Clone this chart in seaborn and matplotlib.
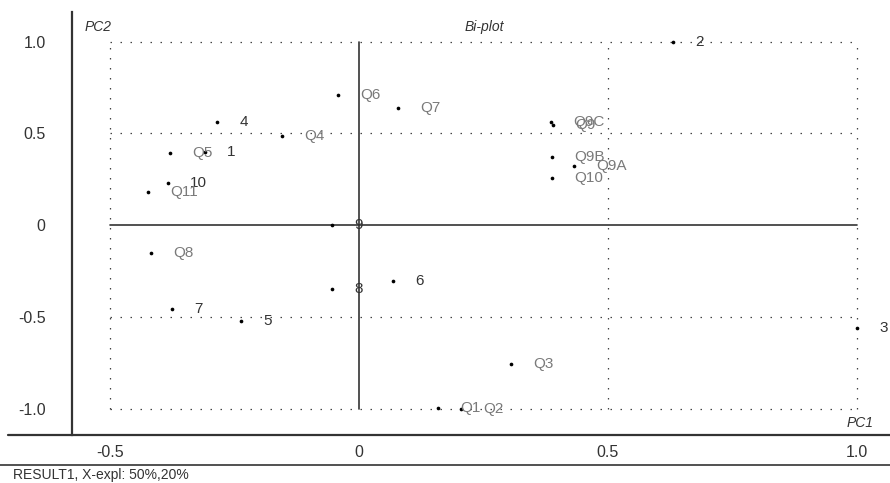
import numpy as np
import matplotlib
matplotlib.use("Agg")
import matplotlib.pyplot as plt
from matplotlib.lines import Line2D
from matplotlib.ticker import FixedLocator
import seaborn as sns
import pandas as pd

# objects (scores)
obj_labels = ['1', '2', '3', '4', '5', '6', '7', '8', '9', '10']
obj_pc1 = [-0.31, 0.63, 1.0, -0.285, -0.237, 0.069, -0.375, -0.054, -0.054, -0.384]
obj_pc2 = [0.40, 1.0, -0.56, 0.56, -0.525, -0.305, -0.46, -0.35, 0.0, 0.23]

# variables (loadings)
var_labels = ['Q1', 'Q2', 'Q3', 'Q4', 'Q5', 'Q6', 'Q7', 'Q8', 'Q9', 'Q9A',
              'Q9B', 'Q9C', 'Q10', 'Q11']
var_pc1 = [0.158, 0.205, 0.305, -0.155, -0.38, -0.042, 0.079, -0.418, 0.39,
           0.432, 0.387, 0.385, 0.388, -0.424]
var_pc2 = [-0.995, -1.0, -0.755, 0.485, 0.39, 0.71, 0.64, -0.155, 0.545,
           0.32, 0.37, 0.56, 0.255, 0.18]

x_major = [-0.5, 0, 0.5, 1.0]
x_major_labels = ['-0.5', '0', '0.5', '1.0']
y_major = [-1.0, -0.5, 0, 0.5, 1.0]
y_major_labels = ['-1.0', '-0.5', '0', '0.5', '1.0']

df = pd.concat([
    pd.DataFrame({'pc1': obj_pc1, 'pc2': obj_pc2, 'label': obj_labels, 'kind': 'obj'}),
    pd.DataFrame({'pc1': var_pc1, 'pc2': var_pc2, 'label': var_labels, 'kind': 'var'}),
], ignore_index=True)

sns.set_style("white")
plt.rcParams['font.family'] = ['Liberation Sans', 'DejaVu Sans']

W, H = 890, 483
fig = plt.figure(figsize=(W / 100, H / 100), dpi=100)

# axes placed so the left spine sits at x=72px and the bottom axis at y=435px
ax = fig.add_axes([72 / W, (H - 435) / H, (W - 72) / W, (435 - 12) / H])
ax.set_xlim(-0.5763, 1.0663)
ax.set_ylim(-1.1444, 1.1608)

dark = '#333333'

# dotted frame / grid
dot_style = dict(color='#444444', lw=0.9, dashes=(1.2, 6.8))
for gx in [-0.5, 0.5, 1.0]:
    ax.plot([gx, gx], [-1, 1], **dot_style)
for gy in [-1.0, -0.5, 0.5, 1.0]:
    ax.plot([-0.5, 1.0], [gy, gy], **dot_style)
# solid zero lines
ax.plot([0, 0], [-1, 1], color=dark, lw=1.2)
ax.plot([-0.5, 1.0], [0, 0], color=dark, lw=1.2)

sns.scatterplot(data=df, x='pc1', y='pc2', color='black', s=7, linewidth=0,
                legend=False, ax=ax, zorder=3)

for _, r in df.iterrows():
    col = dark if r['kind'] == 'obj' else '#7a7a7a'
    ax.annotate(r['label'], (r['pc1'], r['pc2']), xytext=(16, 0),
                textcoords='offset points', ha='left', va='center',
                fontsize=11, color=col, annotation_clip=False)

# spines and ticks
for s in ['top', 'right', 'bottom']:
    ax.spines[s].set_visible(False)
ax.spines['left'].set_color(dark)
ax.spines['left'].set_linewidth(1.6)

ax.xaxis.set_major_locator(FixedLocator(x_major))
ax.set_xticklabels(x_major_labels)
ax.xaxis.set_minor_locator(FixedLocator(np.round(np.arange(-0.5, 1.01, 0.1), 2)))
ax.yaxis.set_major_locator(FixedLocator(y_major))
ax.set_yticklabels(y_major_labels)
ax.yaxis.set_minor_locator(FixedLocator(np.round(np.arange(-1.0, 1.01, 0.1), 2)))

ax.tick_params(axis='x', which='major', direction='out', length=5, width=1.3,
               color=dark, labelsize=11.5, labelcolor=dark, pad=2)
ax.tick_params(axis='x', which='minor', direction='out', length=2.5, width=1.0,
               color=dark)
ax.tick_params(axis='y', which='major', direction='out', length=13, width=1.4,
               color=dark, labelsize=11.5, labelcolor=dark, pad=6)
ax.tick_params(axis='y', which='minor', direction='out', length=6.5, width=1.0,
               color=dark)
ax.set_xlabel('')
ax.set_ylabel('')

# bottom axis line extending past the left spine, and lower separator
fig.add_artist(Line2D([8 / W, 1], [(H - 435) / H] * 2, color=dark, lw=1.6))
fig.add_artist(Line2D([0, 1], [(H - 465) / H] * 2, color=dark, lw=1.2))

fig.text(85 / W, 1 - 27 / H, 'PC2', fontsize=10, style='italic', color=dark,
         ha='left', va='center')
fig.text(484 / W, 1 - 27 / H, 'Bi-plot', fontsize=10, style='italic', color=dark,
         ha='center', va='center')
fig.text(874 / W, 1 - 423 / H, 'PC1', fontsize=10, style='italic', color=dark,
         ha='right', va='center')
fig.text(13 / W, 1 - 475 / H, 'RESULT1, X-expl: 50%,20%', fontsize=10,
         color=dark, ha='left', va='center')

fig.savefig('out.png', dpi=100)
